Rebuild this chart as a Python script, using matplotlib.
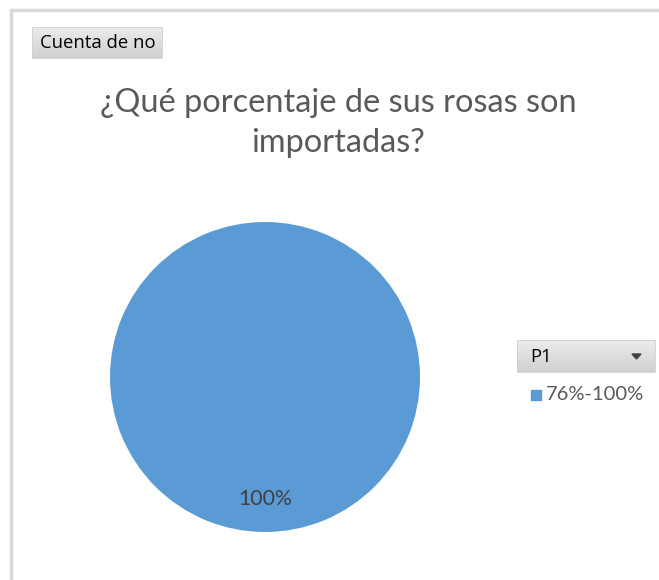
import matplotlib
matplotlib.use("Agg")
from matplotlib import pyplot as plt
from matplotlib.patches import Rectangle, Polygon
from matplotlib.colors import LinearSegmentedColormap
import numpy as np

# datos
categorias = ["76%-100%"]
cuentas = [1]
titulo = "¿Qué porcentaje de sus rosas son\nimportadas?"
campo = "Cuenta de no"
filtro = "P1"

W, H = 659, 580
plt.rcParams['font.family'] = ['Lato', 'DejaVu Sans']

fig = plt.figure(figsize=(W / 100, H / 100), dpi=100)
bg = fig.add_axes([0, 0, 1, 1])
bg.axis('off')

# borde del grafico
bg.plot([11, 11, W], [H, 10, 10], color="#d9d9d9", lw=2.5, solid_capstyle='butt')

gris = LinearSegmentedColormap.from_list("g", ["#ececec", "#d0d0d0"])


def boton(x0, y0, x1, y1):
    # caja gris con degradado
    grad = np.linspace(0, 1, 50).reshape(-1, 1)
    bg.imshow(grad, extent=[x0, x1, y1, y0], cmap=gris, aspect='auto', zorder=2)
    bg.add_patch(Rectangle((x0, y0), x1 - x0, y1 - y0, fill=False, ec="#d0d0d0", lw=0.6, zorder=3))


boton(32, 27, 162, 58)
bg.text(40, 43, campo, fontsize=13.3, color="black", va='center', ha='left', zorder=4,
        family=['Open Sans', 'DejaVu Sans'])

boton(517, 340, 655, 372)
bg.text(530, 357, filtro, fontsize=13.3, color="black", va='center', ha='left', zorder=4,
        family=['Open Sans', 'DejaVu Sans'])
bg.add_patch(Polygon([[632, 354], [641, 354], [636.5, 359]], closed=True, color="#404040", zorder=4))
bg.set_xlim(0, W)
bg.set_ylim(H, 0)

bg.text(338, 123, titulo, fontsize=23.4, color="#595959", ha='center', va='center',
        linespacing=1.42)

# leyenda
colores = ["#5b9bd5"]
for i, (c, col) in enumerate(zip(categorias, colores)):
    y = 395 + i * 22
    bg.add_patch(Rectangle((531, y - 5), 10, 10, color=col))
    bg.text(546, y, c, fontsize=14.5, color="#595959", va='center', ha='left')

# pastel
cx, cy, r = 265, 377, 155
ax = fig.add_axes([(cx - r) / W, (H - cy - r) / H, 2 * r / W, 2 * r / H])
ax.pie(cuentas, colors=colores, startangle=90, counterclock=False,
       autopct=lambda p: "%d%%" % round(p), pctdistance=0.79,
       textprops=dict(fontsize=15.3, color="#404040"))
ax.set_xlim(-1, 1)
ax.set_ylim(-1, 1)
ax.set_aspect('auto')

fig.savefig("out.png", dpi=100)
